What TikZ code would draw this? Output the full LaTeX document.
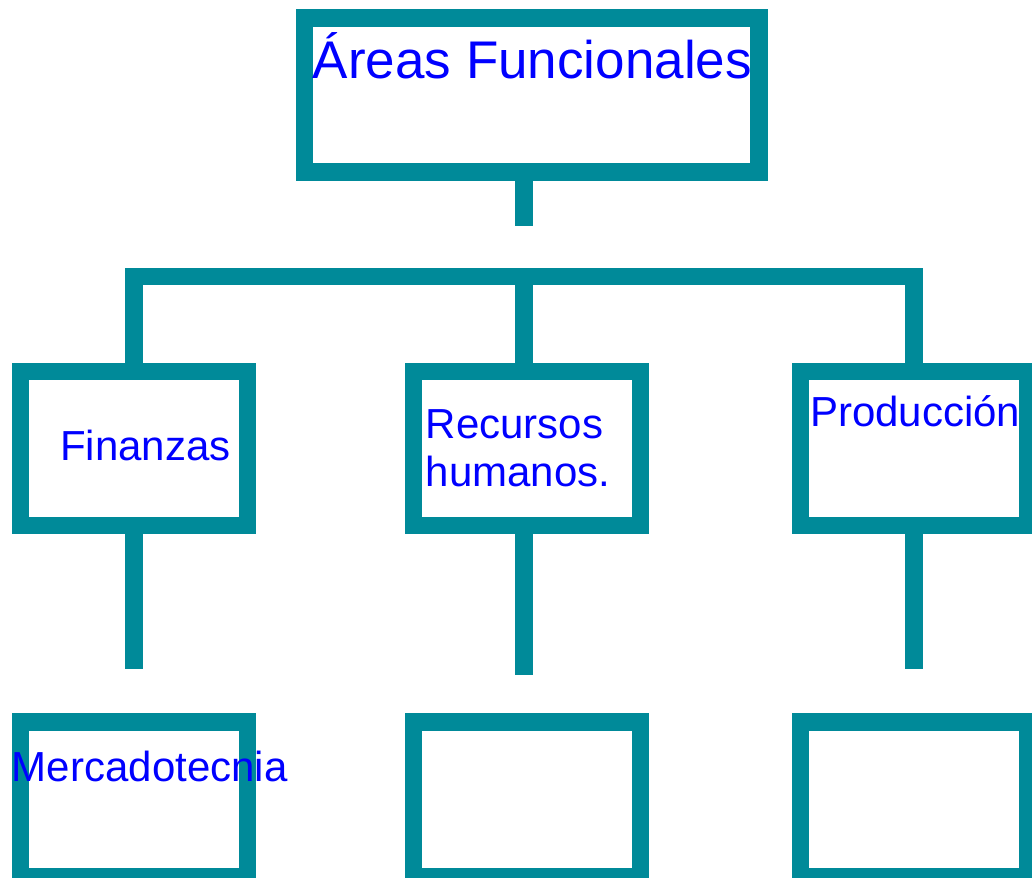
\documentclass[tikz,border=0pt]{standalone}
\usepackage{fontspec}
\setmainfont{Liberation Sans}
\definecolor{tealline}{RGB}{0,138,153}
\definecolor{txtblue}{RGB}{0,0,255}
\begin{document}
\begin{tikzpicture}[x=1pt,y=-1pt,
  orgbox/.style={draw=tealline, line width=17.5pt, rectangle, inner sep=0pt, fill=white},
  conn/.style={draw=tealline, line width=17.5pt, line cap=butt, line join=miter},
  bigtxt/.style={text=txtblue, inner sep=0pt, anchor=base west, font=\fontsize{53}{61}\selectfont},
  smalltxt/.style={text=txtblue, inner sep=0pt, anchor=base west, font=\fontsize{42}{48.4}\selectfont}]
\fill[white] (0,0) rectangle (1032,877);
\useasboundingbox (0,0) rectangle (1032,877);
% boxes
\node[orgbox, minimum width=454.5pt, minimum height=154.4pt] (top) at (531.5,95) {};
\node[orgbox, minimum width=227.2pt, minimum height=154.3pt] (fin) at (134.1,448.4) {};
\node[orgbox, minimum width=227pt, minimum height=154.3pt] (rh) at (527,448.4) {};
\node[orgbox, minimum width=227.3pt, minimum height=154.3pt] (prod) at (914.1,448.4) {};
\node[orgbox, minimum width=227.2pt, minimum height=155.3pt] (b1) at (134.1,799.4) {};
\node[orgbox, minimum width=227pt, minimum height=155.3pt] (b2) at (527,799.4) {};
\node[orgbox, minimum width=227.3pt, minimum height=155.3pt] (b3) at (914.1,799.4) {};
% coordinates
\coordinate (topstub) at (524,225.7);
\coordinate (barmid) at (524,276.7);
\coordinate (finend) at (134,669.3);
\coordinate (rhend) at (524,675);
\coordinate (prodend) at (914,669.3);
% connectors
\draw[conn] (top.south -| topstub) -- (topstub);
\draw[conn] (fin.north -| finend) |- (barmid) -| (prod.north -| prodend);
\draw[conn] (barmid) -- (rh.north -| barmid);
\draw[conn] (fin.south -| finend) -- (finend);
\draw[conn] (rh.south -| rhend) -- (rhend);
\draw[conn] (prod.south -| prodend) -- (prodend);
% texts
\node[bigtxt] (ttop) at (312.7,78.3) {Áreas Funcionales};
\node[smalltxt] (tfin) at (60,460) {Finanzas};
\node[smalltxt] (trh) at (425.7,438.3) {\vtop{\hbox{Recursos}\hbox{humanos.}}};
\node[smalltxt] (tprod) at (810,426) {Producción};
\node[smalltxt] (tmerc) at (11.8,781) {Mercadotecnia};
\end{tikzpicture}
\end{document}
